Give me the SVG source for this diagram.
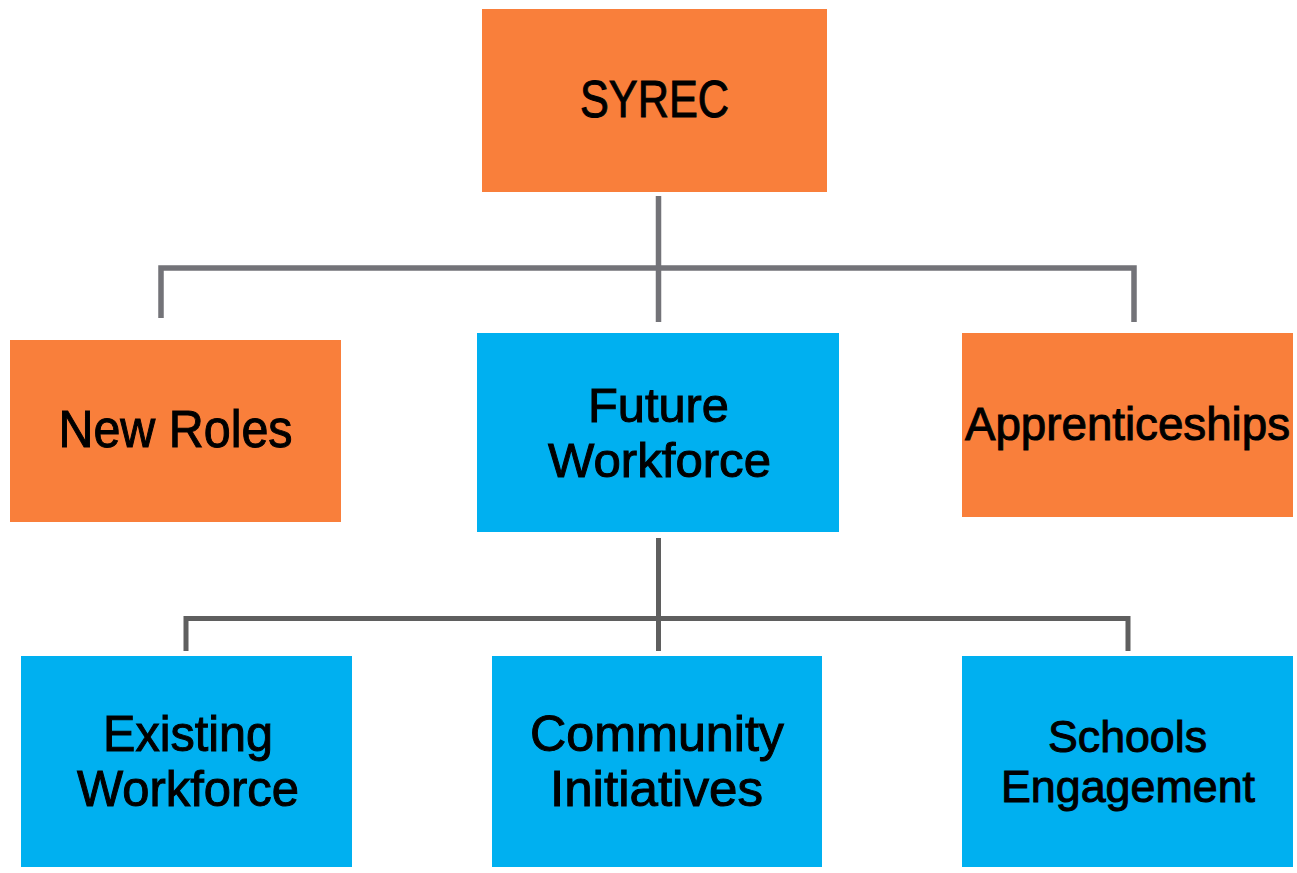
<svg xmlns="http://www.w3.org/2000/svg" width="1297" height="873" viewBox="0 0 1297 873">
<style>
.or{fill:#f97f3b}
.bl{fill:#00b0f0}
.t{font-family:"Liberation Sans Narrow","Liberation Sans",Arial,sans-serif;fill:#000;stroke:#000;stroke-width:1;text-anchor:middle}
.c1{stroke:#737378;stroke-width:5.5;fill:none}
.c2{stroke:#5f5f5f;stroke-width:5;fill:none}
</style>
<rect width="1297" height="873" fill="#fff"/>
<g id="connectors">
<path class="c1" d="M658.5,196V322M161,318V268H1134V322"/>
<path class="c2" d="M658.5,538V651M186,651V618.5H1128V651"/>
</g>
<g id="syrec">
<rect class="or" x="482" y="9" width="345" height="183"/>
<text class="t" x="654.5" y="117" font-size="51" textLength="149" lengthAdjust="spacingAndGlyphs">SYREC</text>
</g>
<g id="new-roles">
<rect class="or" x="10" y="340" width="331" height="182"/>
<text class="t" x="175.5" y="447" font-size="51" textLength="234" lengthAdjust="spacingAndGlyphs">New Roles</text>
</g>
<g id="future-workforce">
<rect class="bl" x="477" y="333" width="362" height="199"/>
<text class="t" x="658.5" y="422" font-size="49" textLength="141" lengthAdjust="spacingAndGlyphs">Future</text>
<text class="t" x="659.5" y="477" font-size="49" textLength="223" lengthAdjust="spacingAndGlyphs">Workforce</text>
</g>
<g id="apprenticeships">
<rect class="or" x="962" y="333" width="331" height="184"/>
<text class="t" x="1127.5" y="440" font-size="46" textLength="325" lengthAdjust="spacingAndGlyphs">Apprenticeships</text>
</g>
<g id="existing-workforce">
<rect class="bl" x="21" y="656" width="331" height="211"/>
<text class="t" x="188" y="751" font-size="50" textLength="170" lengthAdjust="spacingAndGlyphs">Existing</text>
<text class="t" x="188" y="806" font-size="50" textLength="222" lengthAdjust="spacingAndGlyphs">Workforce</text>
</g>
<g id="community-initiatives">
<rect class="bl" x="492" y="656" width="330" height="211"/>
<text class="t" x="657" y="751" font-size="50" textLength="254" lengthAdjust="spacingAndGlyphs">Community</text>
<text class="t" x="656.5" y="806" font-size="50" textLength="213" lengthAdjust="spacingAndGlyphs">Initiatives</text>
</g>
<g id="schools-engagement">
<rect class="bl" x="962" y="656" width="331" height="211"/>
<text class="t" x="1127.5" y="752" font-size="44" textLength="159" lengthAdjust="spacingAndGlyphs">Schools</text>
<text class="t" x="1128" y="802" font-size="44" textLength="254" lengthAdjust="spacingAndGlyphs">Engagement</text>
</g>
</svg>
